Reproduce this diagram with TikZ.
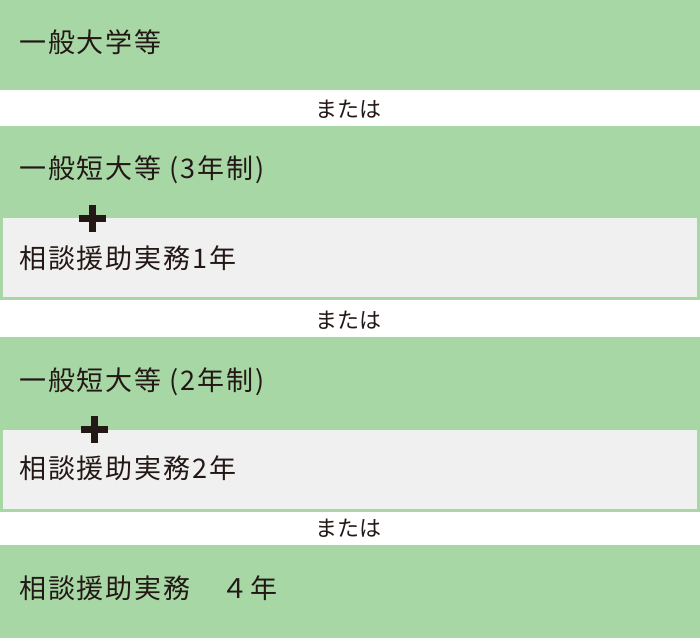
\documentclass[tikz,border=0pt]{standalone}
\usepackage{fontspec}
\newfontfamily\jpfont{Noto Sans CJK JP}[LetterSpace=7]
\newfontfamily\jporfont{Noto Sans CJK JP}
\definecolor{bandgreen}{HTML}{A7D7A5}
\definecolor{boxgray}{HTML}{F0F0F0}
\definecolor{inkdark}{HTML}{231815}
\begin{document}
\begin{tikzpicture}[x=1pt, y=-1pt]
\useasboundingbox (0,0) rectangle (700,638);
\fill[white] (0,0) rectangle (700,638);
\begin{scope}[every path/.style = {fill=bandgreen}]
\fill (0,0) rectangle (700,90);
\fill (0,126) rectangle (700,300);
\fill (0,337) rectangle (700,512);
\fill (0,545) rectangle (700,638);
\end{scope}
\fill[boxgray] (3,218) rectangle (697,297);
\fill[boxgray] (3,430) rectangle (697,509);
\begin{scope}[every node/.style = {anchor=west, inner sep=0pt, text=inkdark, font=\jpfont\fontsize{27}{30}\selectfont}]
\node (Daigaku) at (19, 42) {一般大学等};
\node (TandaiA) at (19, 170) {一般短大等 (3年制)};
\node (JitsumuA) at (19, 258) {相談援助実務1年};
\node (TandaiB) at (19, 382) {一般短大等 (2年制)};
\node (JitsumuB) at (19, 468) {相談援助実務2年};
\node (JitsumuC) at (19, 588) {相談援助実務　４年};
\end{scope}
\begin{scope}[every node/.style = {inner sep=0pt, text=inkdark, font=\jporfont\fontsize{22}{24}\selectfont}]
\node (OrA) at (348, 109) {または};
\node (OrB) at (348, 320) {または};
\node (OrC) at (348, 528) {または};
\end{scope}
\coordinate (PlusA) at (92, 218);
\coordinate (PlusB) at (94, 429);
\begin{scope}[every path/.style = {draw=inkdark, line width=7pt}]
\draw ([xshift=-13.5pt]PlusA) -- ([xshift=13.5pt]PlusA);
\draw ([yshift=-13.5pt]PlusA) -- ([yshift=13.5pt]PlusA);
\draw ([xshift=-13.5pt]PlusB) -- ([xshift=13.5pt]PlusB);
\draw ([yshift=-13.5pt]PlusB) -- ([yshift=13.5pt]PlusB);
\end{scope}
\end{tikzpicture}
\end{document}
